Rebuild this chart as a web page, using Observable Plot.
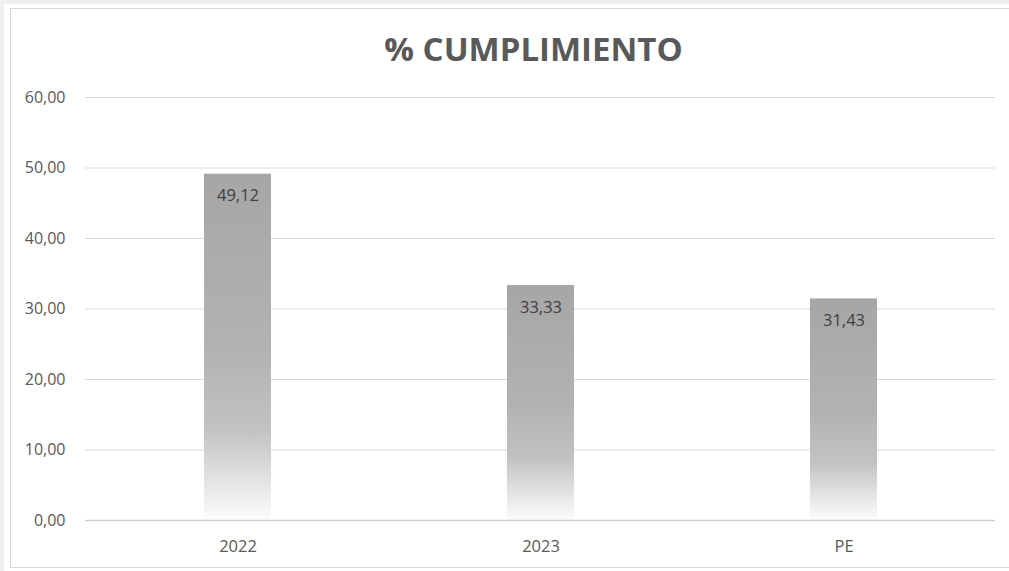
<!DOCTYPE html>
<html>
<head>
<meta charset="utf-8">
<script src="https://cdn.jsdelivr.net/npm/d3@7"></script>
<script src="https://cdn.jsdelivr.net/npm/@observablehq/plot@0.6"></script>
<style>
  html, body { margin: 0; padding: 0; background: #ffffff; }
  #wrap { position: relative; width: 1009px; height: 571px; overflow: hidden; font-family: "Open Sans", sans-serif; background: #efefef; }
  #inner { position: absolute; left: 4px; top: 4px; width: 1020px; height: 580px; background: #ffffff; }
  #frame { position: absolute; left: 10px; top: 8px; width: 1010px; height: 560px; border: 1px solid #d9d9d9; border-right: none; box-sizing: border-box; }
  #title { position: absolute; left: 0; top: 26px; width: 1067px; text-align: center; font-size: 33px; font-weight: 700; color: #595959; }
  #chart { position: absolute; left: 0; top: 0; }
</style>
</head>
<body>
<div id="wrap">
  <div id="inner"></div>
  <div id="frame"></div>
  <div id="title">% CUMPLIMIENTO</div>
  <div id="chart"></div>
</div>
<script>
const categories = ["2022", "2023", "PE"];
const values = [49.12, 33.33, 31.43];
const yTicks = [0, 10, 20, 30, 40, 50, 60];

const data = categories.map((c, i) => ({cat: c, value: values[i]}));
const fmt = v => d3.format(".2f")(v).replace(".", ",");

const plot = Plot.plot({
  width: 1009,
  height: 571,
  marginTop: 97,
  marginBottom: 51,
  marginLeft: 85,
  marginRight: 14,
  style: {fontFamily: "Open Sans, sans-serif", fontSize: "16px", color: "#595959", background: "transparent"},
  x: {domain: categories, paddingInner: 0.78, paddingOuter: 0.39, label: null},
  y: {domain: [0, 60], ticks: yTicks, label: null, tickFormat: fmt},
  marks: [
    Plot.gridY(yTicks.filter(t => t > 0), {stroke: "#d9d9d9", strokeOpacity: 1, strokeWidth: 1}),
    Plot.barY(data, {x: "cat", y: "value", fill: "url(#barGrad)"}),
    Plot.ruleY([0], {stroke: "#d0d0d0", strokeWidth: 1.5}),
    Plot.text(data, {x: "cat", y: "value", text: d => fmt(d.value), dy: 22, fill: "#404040", fontSize: 16.5}),
    Plot.axisY({ticks: yTicks, tickSize: 0, tickPadding: 20, tickFormat: fmt, fill: "#595959", fontSize: 16}),
    Plot.axisX({tickSize: 0, tickPadding: 20, fill: "#595959", fontSize: 16.5})
  ]
});

const svg = d3.select(plot);
const defs = svg.insert("defs", ":first-child");
const grad = defs.append("linearGradient").attr("id", "barGrad")
  .attr("x1", 0).attr("y1", 0).attr("x2", 0).attr("y2", 1);
[[0, "#a6a6a6"], [0.5, "#b2b2b2"], [0.74, "#c2c2c2"], [0.88, "#e2e2e2"], [1, "#fcfcfc"]]
  .forEach(([o, c]) => grad.append("stop").attr("offset", o).attr("stop-color", c));

document.getElementById("chart").appendChild(plot);
</script>
</body>
</html>
